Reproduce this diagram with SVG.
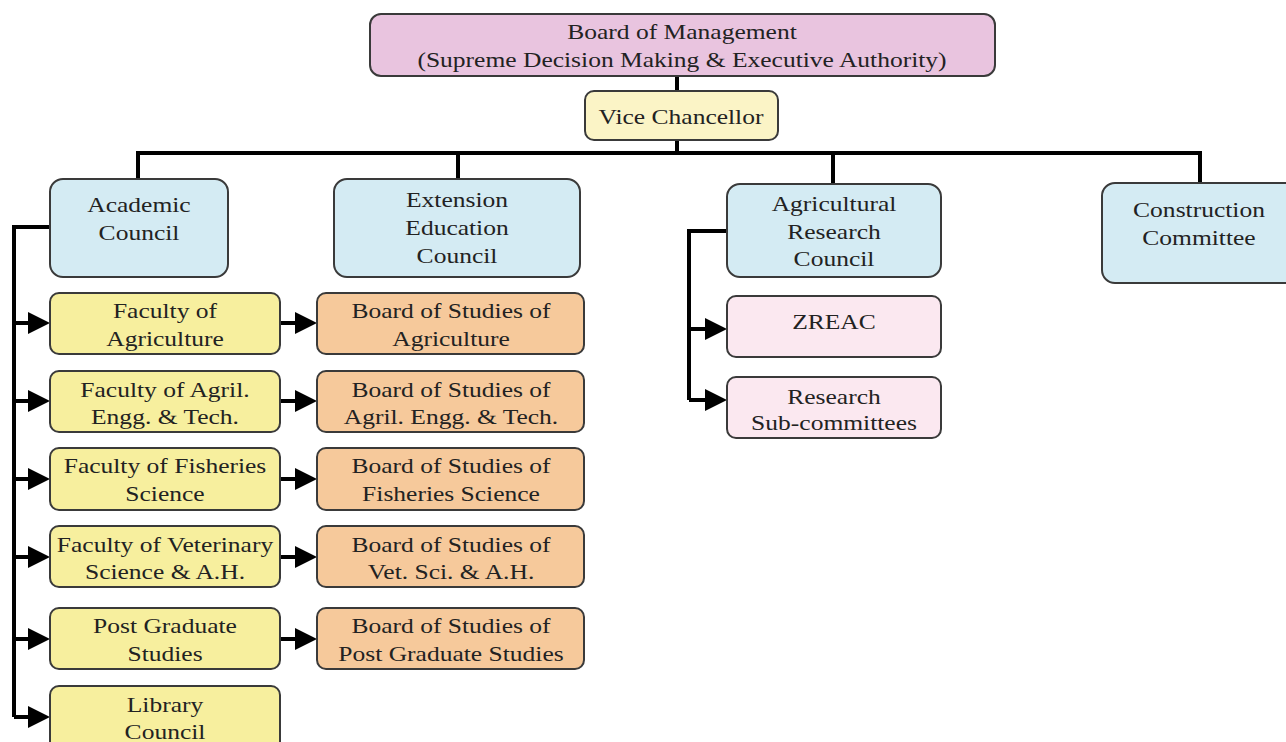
<svg xmlns="http://www.w3.org/2000/svg" width="1286" height="742" viewBox="0 0 1286 742">
<defs>
<marker id="ah" markerUnits="userSpaceOnUse" markerWidth="22" markerHeight="22" refX="12" refY="11" orient="auto">
<path d="M0,0 L22,11 L0,22 z" fill="#000"/>
</marker>
<style>
.b{stroke:#3a3a3a;stroke-width:2}
.pink{fill:#E9C4DF}.vc{fill:#FBF4C6}.blue{fill:#D4EBF3}.yel{fill:#F7EF9E}.org{fill:#F6C99B}.lp{fill:#FBE8F0}
text{font-family:"Liberation Serif","Times New Roman",serif;font-size:22px;fill:#222;text-anchor:middle}
.c{fill:none;stroke:#000;stroke-width:4}
.a{fill:none;stroke:#000;stroke-width:4;marker-end:url(#ah)}
</style>
</defs>
<rect width="1286" height="742" fill="#fff"/>
<g id="connectors">
<path class="c" d="M677,76 V91 M677,140 V153 M138,179 V153 H1200 V183 M458,153 V179 M833,153 V184"/>
<path class="c" d="M50,227 H14 V717"/>
<path class="a" d="M14,323 H40"/>
<path class="a" d="M14,401 H40"/>
<path class="a" d="M14,479 H40"/>
<path class="a" d="M14,557 H40"/>
<path class="a" d="M14,639 H40"/>
<path class="a" d="M14,717 H40"/>
<path class="a" d="M280,323 H307"/>
<path class="a" d="M280,401 H307"/>
<path class="a" d="M280,479 H307"/>
<path class="a" d="M280,557 H307"/>
<path class="a" d="M280,639 H307"/>
<path class="c" d="M727,231 H689 V400"/>
<path class="a" d="M689,329 H717"/>
<path class="a" d="M689,400 H717"/>
</g>
<g id="board">
<rect class="b pink" x="370" y="14" width="625" height="62" rx="11"/>
<text transform="translate(682,39) scale(1.16,1)">Board of Management<tspan x="0" dy="28">(Supreme Decision Making &amp; Executive Authority)</tspan></text>
</g>
<g id="vc">
<rect class="b vc" x="585" y="91" width="193" height="49" rx="9"/>
<text transform="translate(681,124) scale(1.16,1)">Vice Chancellor</text>
</g>
<g id="academic">
<rect class="b blue" x="50" y="179" width="178" height="98" rx="13"/>
<text transform="translate(139,212) scale(1.16,1)">Academic<tspan x="0" dy="28">Council</tspan></text>
</g>
<g id="extension">
<rect class="b blue" x="334" y="179" width="246" height="98" rx="13"/>
<text transform="translate(457,207) scale(1.16,1)">Extension<tspan x="0" dy="28">Education</tspan><tspan x="0" dy="28">Council</tspan></text>
</g>
<g id="arc">
<rect class="b blue" x="727" y="184" width="214" height="93" rx="13"/>
<text transform="translate(834,211) scale(1.16,1)">Agricultural<tspan x="0" dy="28">Research</tspan><tspan x="0" dy="27">Council</tspan></text>
</g>
<g id="construction">
<rect class="b blue" x="1102" y="183" width="200" height="100" rx="13"/>
<text transform="translate(1199,217) scale(1.16,1)">Construction<tspan x="0" dy="28">Committee</tspan></text>
</g>
<g id="fac-agri">
<rect class="b yel" x="50" y="293" width="230" height="61" rx="9"/>
<text transform="translate(165,318) scale(1.16,1)">Faculty of<tspan x="0" dy="28">Agriculture</tspan></text>
</g>
<g id="fac-engg">
<rect class="b yel" x="50" y="371" width="230" height="61" rx="9"/>
<text transform="translate(165,397) scale(1.16,1)">Faculty of Agril.<tspan x="0" dy="27">Engg. &amp; Tech.</tspan></text>
</g>
<g id="fac-fish">
<rect class="b yel" x="50" y="448" width="230" height="62" rx="9"/>
<text transform="translate(165,473) scale(1.16,1)">Faculty of Fisheries<tspan x="0" dy="28">Science</tspan></text>
</g>
<g id="fac-vet">
<rect class="b yel" x="50" y="526" width="230" height="61" rx="9"/>
<text transform="translate(165,552) scale(1.16,1)">Faculty of Veterinary<tspan x="0" dy="27">Science &amp; A.H.</tspan></text>
</g>
<g id="fac-pg">
<rect class="b yel" x="50" y="608" width="230" height="61" rx="9"/>
<text transform="translate(165,633) scale(1.16,1)">Post Graduate<tspan x="0" dy="28">Studies</tspan></text>
</g>
<g id="library">
<rect class="b yel" x="50" y="686" width="230" height="70" rx="9"/>
<text transform="translate(165,712) scale(1.16,1)">Library<tspan x="0" dy="27">Council</tspan></text>
</g>
<g id="bos-agri">
<rect class="b org" x="317" y="293" width="267" height="61" rx="9"/>
<text transform="translate(451,318) scale(1.16,1)">Board of Studies of<tspan x="0" dy="28">Agriculture</tspan></text>
</g>
<g id="bos-engg">
<rect class="b org" x="317" y="371" width="267" height="61" rx="9"/>
<text transform="translate(451,397) scale(1.16,1)">Board of Studies of<tspan x="0" dy="27">Agril. Engg. &amp; Tech.</tspan></text>
</g>
<g id="bos-fish">
<rect class="b org" x="317" y="448" width="267" height="62" rx="9"/>
<text transform="translate(451,473) scale(1.16,1)">Board of Studies of<tspan x="0" dy="28">Fisheries Science</tspan></text>
</g>
<g id="bos-vet">
<rect class="b org" x="317" y="526" width="267" height="61" rx="9"/>
<text transform="translate(451,552) scale(1.16,1)">Board of Studies of<tspan x="0" dy="27">Vet. Sci. &amp; A.H.</tspan></text>
</g>
<g id="bos-pg">
<rect class="b org" x="317" y="608" width="267" height="61" rx="9"/>
<text transform="translate(451,633) scale(1.16,1)">Board of Studies of<tspan x="0" dy="28">Post Graduate Studies</tspan></text>
</g>
<g id="zreac">
<rect class="b lp" x="727" y="296" width="214" height="61" rx="9"/>
<text transform="translate(834,329) scale(1.16,1)">ZREAC</text>
</g>
<g id="research-sub">
<rect class="b lp" x="727" y="377" width="214" height="61" rx="9"/>
<text transform="translate(834,404) scale(1.16,1)">Research<tspan x="0" dy="26">Sub-committees</tspan></text>
</g>
</svg>
